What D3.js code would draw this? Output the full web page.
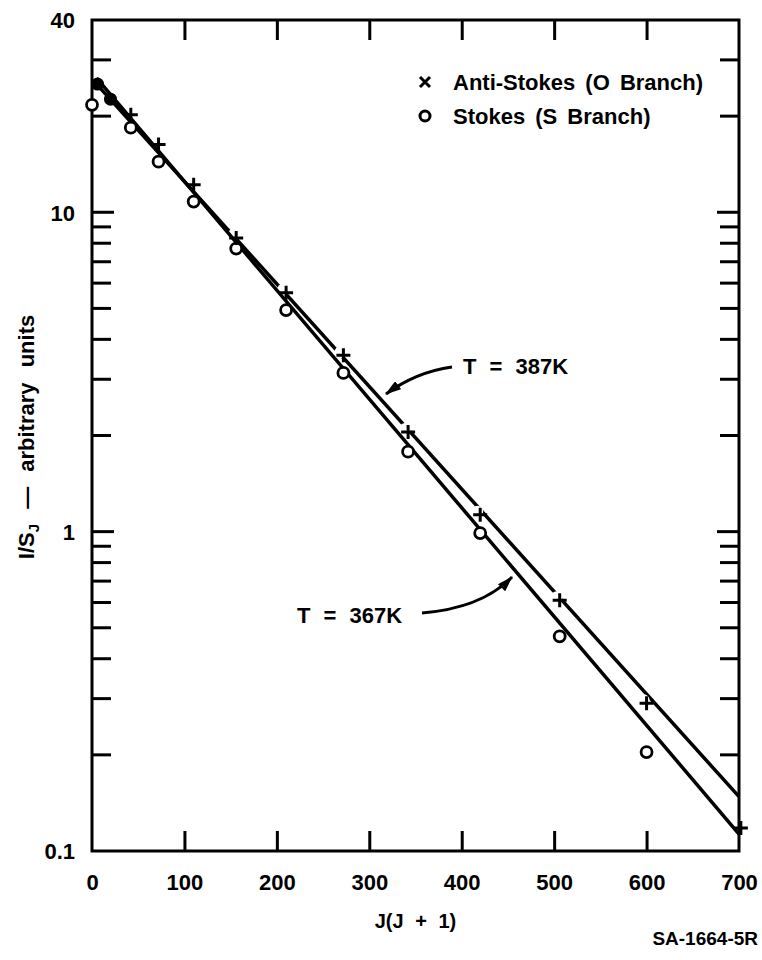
<!DOCTYPE html>
<html>
<head>
<meta charset="utf-8">
<script src="https://cdn.jsdelivr.net/npm/d3@7"></script>
<style>
  body { margin: 0; background: #fff; }
  text { font-family: "Liberation Sans", Arial, sans-serif; font-weight: bold; fill: #000; }
</style>
</head>
<body>
<svg id="chart"></svg>
<script>
var width = 762;
var height = 960;

// J(J+1) values and I/S_J readings
var antiStokesX = [42, 72, 110, 156, 210, 272, 342, 420, 506, 600, 702];
var antiStokesY = [20.2, 16.3, 12.2, 8.3, 5.6, 3.57, 2.05, 1.13, 0.61, 0.29, 0.118];

var stokesX = [0, 42, 72, 110, 156, 210, 272, 342, 420, 506, 600];
var stokesY = [21.7, 18.4, 14.4, 10.8, 7.7, 4.94, 3.14, 1.78, 0.99, 0.47, 0.204];

// points where both markers sit on top of each other (drawn as solid dots)
var overlapX = [6, 20];
var overlapY = [25.2, 22.6];

// fitted lines (end points)
var fit387X = [5, 700];
var fit387Y = [25.2, 0.148];
var fit367X = [5, 700];
var fit367Y = [26.3, 0.113];

var xTicks = [0, 100, 200, 300, 400, 500, 600, 700];
var yLabelTicks = [0.1, 1, 10, 40];
var yMinorTicks = [0.2, 0.3, 0.4, 0.5, 0.6, 0.7, 0.8, 0.9, 2, 3, 4, 5, 6, 7, 8, 9, 20, 30];
var yMajorTicks = [1, 10];

// plot box
var pLeft = 92, pRight = 739, pTop = 20, pBottom = 851;

var x = d3.scaleLinear().domain([0, 700]).range([pLeft, pRight]);
var y = d3.scaleLog().domain([0.1, 40]).range([pBottom, pTop]);

var svg = d3.select("#chart").attr("width", width).attr("height", height);

svg.append("defs").append("marker")
  .attr("id", "arrow")
  .attr("viewBox", "0 0 16 10")
  .attr("refX", 15).attr("refY", 5)
  .attr("markerWidth", 16).attr("markerHeight", 10)
  .attr("markerUnits", "userSpaceOnUse")
  .attr("orient", "auto")
  .append("path").attr("d", "M0,0 L16,5 L0,10 Z").attr("fill", "#000");

// bottom axis (ticks inward)
var gx = svg.append("g").attr("transform", "translate(0," + pBottom + ")")
  .call(d3.axisBottom(x).tickValues(xTicks).tickSize(-20).tickPadding(23).tickFormat(d3.format("d")));
gx.select(".domain").remove();
gx.selectAll("line").attr("stroke-width", 3).filter(function (d) { return d == 0 || d == 700; }).remove();
gx.selectAll("text").attr("font-size", 22).attr("font-family", null);

// top axis, ticks only
var gt = svg.append("g").attr("transform", "translate(0," + pTop + ")")
  .call(d3.axisTop(x).tickValues(xTicks.slice(1, -1)).tickSize(-20).tickFormat(""));
gt.select(".domain").remove();
gt.selectAll("line").attr("stroke-width", 3);

// left axis: labels plus minor / major ticks
var gl = svg.append("g").attr("transform", "translate(" + pLeft + ",0)")
  .call(d3.axisLeft(y).tickValues(yLabelTicks).tickSize(0).tickPadding(17)
    .tickFormat(function (d) { return d < 1 ? "0.1" : d3.format("d")(d); }));
gl.select(".domain").remove();
gl.selectAll("text").attr("font-size", 22).attr("font-family", null).attr("dy", "0.36em");

[pLeft, pRight].forEach(function (xp) {
  var dir = xp == pLeft ? 1 : -1;
  svg.append("g").selectAll("line").data(yMinorTicks.concat(yMajorTicks)).join("line")
    .attr("x1", xp).attr("x2", function (d) { return xp + dir * (yMajorTicks.indexOf(d) >= 0 ? 22 : 19); })
    .attr("y1", function (d) { return y(d); }).attr("y2", function (d) { return y(d); })
    .attr("stroke", "#000").attr("stroke-width", 3);
});

// frame
svg.append("rect").attr("x", pLeft).attr("y", pTop)
  .attr("width", pRight - pLeft).attr("height", pBottom - pTop)
  .attr("fill", "none").attr("stroke", "#000").attr("stroke-width", 3);

var line = d3.line().x(function (d) { return x(d[0]); }).y(function (d) { return y(d[1]); });

// T = 387K line
svg.append("path").datum(d3.zip(fit387X, fit387Y)).attr("d", line)
  .attr("fill", "none").attr("stroke", "#000").attr("stroke-width", 3.5);

// small gaps in the line round the crosses
svg.append("g").selectAll("circle").data(d3.zip(antiStokesX, antiStokesY).slice(3, 10)).join("circle")
  .attr("cx", function (d) { return x(d[0]) - 3; }).attr("cy", function (d) { return y(d[1]) - 3; })
  .attr("r", 6).attr("fill", "#fff");

// T = 367K line
svg.append("path").datum(d3.zip(fit367X, fit367Y)).attr("d", line)
  .attr("fill", "none").attr("stroke", "#000").attr("stroke-width", 3.5);

// Stokes circles
svg.append("g").selectAll("circle").data(d3.zip(stokesX, stokesY)).join("circle")
  .attr("cx", function (d) { return x(d[0]); }).attr("cy", function (d) { return y(d[1]); })
  .attr("r", 5.5).attr("fill", "#fff").attr("stroke", "#000").attr("stroke-width", 2.8);

// overlapping points
svg.append("g").selectAll("circle").data(d3.zip(overlapX, overlapY)).join("circle")
  .attr("cx", function (d) { return x(d[0]); }).attr("cy", function (d) { return y(d[1]); })
  .attr("r", 6.5).attr("fill", "#000");

// Anti-Stokes crosses
svg.append("g").selectAll("path").data(d3.zip(antiStokesX, antiStokesY)).join("path")
  .attr("transform", function (d) { return "translate(" + x(d[0]) + "," + y(d[1]) + ")"; })
  .attr("d", "M-7,0 L7,0 M0,-7 L0,7")
  .attr("stroke", "#000").attr("stroke-width", 3).attr("fill", "none");

// legend
var legend = svg.append("g");
legend.append("path").attr("transform", "translate(425,82)")
  .attr("d", "M-5,-5 L5,5 M-5,5 L5,-5").attr("stroke", "#000").attr("stroke-width", 3);
legend.append("text").attr("x", 453).attr("y", 90).attr("font-size", 22).attr("word-spacing", 4)
  .text("Anti-Stokes (O Branch)");
legend.append("circle").attr("cx", 425).attr("cy", 116).attr("r", 5)
  .attr("fill", "#fff").attr("stroke", "#000").attr("stroke-width", 3);
legend.append("text").attr("x", 453).attr("y", 124).attr("font-size", 22).attr("word-spacing", 4)
  .text("Stokes (S Branch)");

// annotations
svg.append("text").attr("x", 463).attr("y", 374).attr("font-size", 22).attr("word-spacing", 7)
  .text("T = 387K");
svg.append("path").attr("d", "M452,367 Q416,372 386,394")
  .attr("fill", "none").attr("stroke", "#000").attr("stroke-width", 3).attr("marker-end", "url(#arrow)");

svg.append("text").attr("x", 297).attr("y", 623).attr("font-size", 22).attr("word-spacing", 7)
  .text("T = 367K");
svg.append("path").attr("d", "M422,613 Q482,608 512,577")
  .attr("fill", "none").attr("stroke", "#000").attr("stroke-width", 3).attr("marker-end", "url(#arrow)");

// axis titles
svg.append("text").attr("x", x(350)).attr("y", 928).attr("text-anchor", "middle")
  .attr("font-size", 20).attr("word-spacing", 6).text("J(J + 1)");

var yt = svg.append("text").attr("transform", "translate(34,437) rotate(-90)")
  .attr("text-anchor", "middle").attr("font-size", 22).attr("word-spacing", 9);
yt.append("tspan").text("I/S");
yt.append("tspan").attr("font-size", 15).attr("dy", 5).text("J");
yt.append("tspan").attr("dy", -5).text(" \u2014 arbitrary units");

svg.append("text").attr("x", 758).attr("y", 945).attr("text-anchor", "end")
  .attr("font-size", 19).text("SA-1664-5R");
</script>
</body>
</html>
